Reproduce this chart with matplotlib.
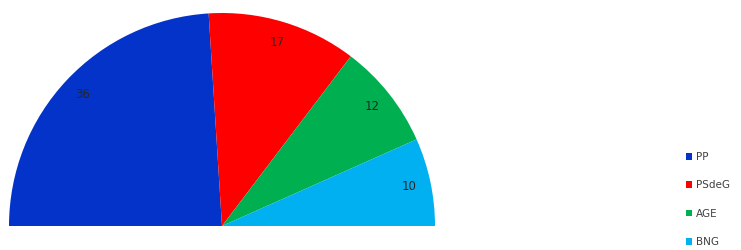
import numpy as np
import matplotlib
matplotlib.use('Agg')
import matplotlib.pyplot as plt
from matplotlib.patches import Patch

parties = ['PP', 'PSdeG', 'AGE', 'BNG']
seats = [36, 17, 12, 10]
colors = ['#0433c9', '#ff0000', '#00b050', '#00b0f0']

W, H = 741, 250
cx, cy, R = 222, 226, 213  # pixel centre / radius of the half circle

fig = plt.figure(figsize=(W / 100, H / 100), dpi=100)
ax = fig.add_axes([0, 0, 1, 1])

# hidden lower half so the visible wedges make a semicircle
total = sum(seats)
wedges, _ = ax.pie(seats + [total], colors=colors + ['none'],
                   startangle=180, counterclock=False, radius=1,
                   wedgeprops=dict(linewidth=0))

for w, v in zip(wedges[:len(seats)], seats):
    mid = np.deg2rad((w.theta1 + w.theta2) / 2)
    ax.text(0.9 * np.cos(mid), 0.9 * np.sin(mid), str(v),
            ha='center', va='center', fontsize=8.5, color='#262626')

ax.set_xlim(-cx / R, (W - cx) / R)
ax.set_ylim(-(H - cy) / R, cy / R)
ax.set_aspect('auto')
ax.axis('off')

handles = [Patch(facecolor=c, edgecolor='none') for c in colors]
fig.legend(handles, parties, loc='upper left',
           bbox_to_anchor=(681 / W, 1 - 147 / H), frameon=False,
           fontsize=7.5, labelspacing=1.75, handlelength=0.6,
           handleheight=0.6, handletextpad=0.35, borderpad=0,
           labelcolor='#404040')

fig.savefig('out.png', dpi=100)
